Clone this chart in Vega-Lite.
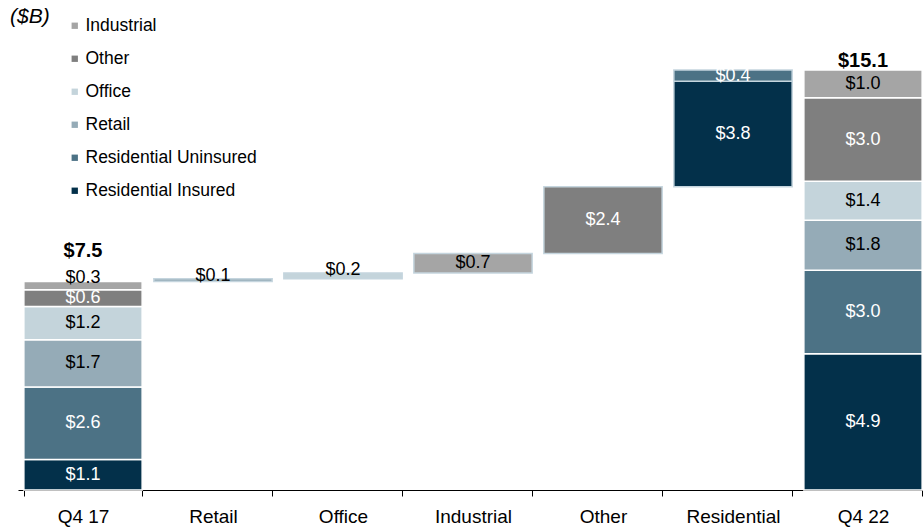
{
  "$schema": "https://vega.github.io/schema/vega-lite/v6.json",
  "autosize": "none",
  "width": 910,
  "height": 445,
  "padding": {"left": 18, "top": 45, "right": 0, "bottom": 37},
  "background": "white",
  "config": {
    "view": {"stroke": null},
    "font": "Liberation Sans",
    "axis": {"grid": false}
  },
  "datasets": {
    "segments": [
      {"category": "Q4 17", "segment": "Residential Insured", "start": 0, "end": 1.1, "value": 1.1},
      {"category": "Q4 17", "segment": "Residential Uninsured", "start": 1.1, "end": 3.7, "value": 2.6},
      {"category": "Q4 17", "segment": "Retail", "start": 3.7, "end": 5.4, "value": 1.7},
      {"category": "Q4 17", "segment": "Office", "start": 5.4, "end": 6.6, "value": 1.2},
      {"category": "Q4 17", "segment": "Other", "start": 6.6, "end": 7.2, "value": 0.6},
      {"category": "Q4 17", "segment": "Industrial", "start": 7.2, "end": 7.5, "value": 0.3},
      {"category": "Retail", "segment": "Retail", "start": 7.5, "end": 7.6, "value": 0.1},
      {"category": "Office", "segment": "Office", "start": 7.6, "end": 7.8, "value": 0.2},
      {"category": "Industrial", "segment": "Industrial", "start": 7.8, "end": 8.5, "value": 0.7},
      {"category": "Other", "segment": "Other", "start": 8.5, "end": 10.9, "value": 2.4},
      {"category": "Residential", "segment": "Residential Insured", "start": 10.9, "end": 14.7, "value": 3.8},
      {"category": "Residential", "segment": "Residential Uninsured", "start": 14.7, "end": 15.1, "value": 0.4},
      {"category": "Q4 22", "segment": "Residential Insured", "start": 0, "end": 4.9, "value": 4.9},
      {"category": "Q4 22", "segment": "Residential Uninsured", "start": 4.9, "end": 7.9, "value": 3.0},
      {"category": "Q4 22", "segment": "Retail", "start": 7.9, "end": 9.7, "value": 1.8},
      {"category": "Q4 22", "segment": "Office", "start": 9.7, "end": 11.1, "value": 1.4},
      {"category": "Q4 22", "segment": "Other", "start": 11.1, "end": 14.1, "value": 3.0},
      {"category": "Q4 22", "segment": "Industrial", "start": 14.1, "end": 15.1, "value": 1.0}
    ],
    "totals": [
      {"category": "Q4 17", "total": 7.5},
      {"category": "Q4 22", "total": 15.1}
    ]
  },
  "encoding": {
    "x": {
      "field": "category",
      "type": "nominal",
      "sort": ["Q4 17", "Retail", "Office", "Industrial", "Other", "Residential", "Q4 22"],
      "scale": {"paddingInner": 0.09, "paddingOuter": 0.045},
      "axis": {
        "title": null,
        "labelAngle": 0,
        "labelFontSize": 19,
        "labelColor": "black",
        "labelPadding": 11,
        "tickBand": "extent",
        "tickSize": 6,
        "tickColor": "black",
        "domainColor": "black",
        "domainWidth": 1
      }
    }
  },
  "layer": [
    {
      "data": {"name": "segments"},
      "mark": {"type": "bar", "strokeWidth": 1.5},
      "encoding": {
        "y": {"field": "start", "type": "quantitative", "scale": {"domain": [0, 16], "nice": false}, "axis": null},
        "y2": {"field": "end"},
        "color": {
          "field": "segment",
          "type": "nominal",
          "scale": {
            "domain": ["Industrial", "Other", "Office", "Retail", "Residential Uninsured", "Residential Insured"],
            "range": ["#a5a5a5", "#7f7f7f", "#c4d4db", "#95abb7", "#4c7285", "#03304a"]
          },
          "legend": {
            "title": "($B)",
            "titleOrient": "left",
            "titleAnchor": "start",
            "titleBaseline": "middle",
            "titleFontSize": 21,
            "titleFontStyle": "italic",
            "titleFontWeight": "normal",
            "titleColor": "black",
            "titlePadding": 16,
            "orient": "none",
            "legendX": -8,
            "legendY": -28,
            "symbolType": "square",
            "symbolSize": 40,
            "symbolStrokeWidth": 0,
            "labelFontSize": 17.5,
            "labelColor": "black",
            "labelLimit": 400,
            "labelOffset": 2,
            "rowPadding": 14,
            "padding": 0
          }
        },
        "stroke": {
          "condition": {"test": "datum.category === 'Q4 17' || datum.category === 'Q4 22'", "value": "white"},
          "value": "#c5d5de"
        }
      }
    },
    {
      "data": {"name": "segments"},
      "transform": [
        {"filter": "datum.value >= 0.35"},
        {"fold": ["start", "end"], "as": ["k", "v"]},
        {"aggregate": [{"op": "mean", "field": "v", "as": "mid"}], "groupby": ["category", "segment", "value"]}
      ],
      "mark": {"type": "text", "fontSize": 18, "baseline": "middle"},
      "encoding": {
        "y": {"field": "mid", "type": "quantitative"},
        "text": {"field": "value", "type": "quantitative", "format": "$.1f"},
        "color": {
          "condition": {"test": "datum.segment === 'Other' || datum.segment === 'Residential Uninsured' || datum.segment === 'Residential Insured'", "value": "white"},
          "value": "black"
        }
      }
    },
    {
      "data": {"name": "segments"},
      "transform": [{"filter": "datum.value < 0.35"}],
      "mark": {"type": "text", "fontSize": 18, "baseline": "alphabetic", "dy": 2},
      "encoding": {
        "y": {"field": "end", "type": "quantitative"},
        "text": {"field": "value", "type": "quantitative", "format": "$.1f"},
        "color": {"value": "black"}
      }
    },
    {
      "data": {"name": "totals"},
      "transform": [{"filter": "datum.category === 'Q4 17'"}],
      "mark": {"type": "text", "fontSize": 20, "fontWeight": "bold", "baseline": "alphabetic", "dy": -24},
      "encoding": {
        "y": {"field": "total", "type": "quantitative"},
        "text": {"field": "total", "type": "quantitative", "format": "$.1f"},
        "color": {"value": "black"}
      }
    },
    {
      "data": {"name": "totals"},
      "transform": [{"filter": "datum.category === 'Q4 22'"}],
      "mark": {"type": "text", "fontSize": 20, "fontWeight": "bold", "baseline": "alphabetic", "dy": -3},
      "encoding": {
        "y": {"field": "total", "type": "quantitative"},
        "text": {"field": "total", "type": "quantitative", "format": "$.1f"},
        "color": {"value": "black"}
      }
    }
  ]
}
